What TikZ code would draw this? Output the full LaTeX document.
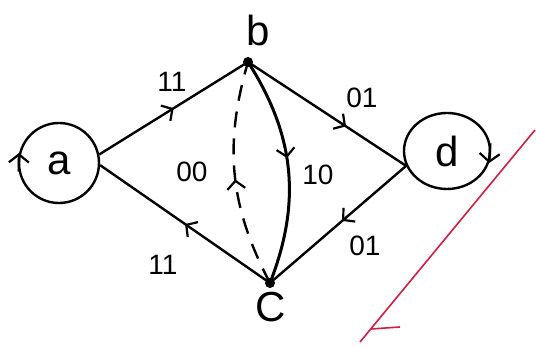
\documentclass[tikz,border=0pt]{standalone}
\usepackage{fontspec}
\setmainfont{Liberation Sans}
\usetikzlibrary{arrows.meta,decorations.markings,shapes.geometric}
\definecolor{pen}{RGB}{205,30,70}
\begin{document}
\begin{tikzpicture}[x=1pt,y=1pt,
  edge/.style={line width=2.4pt},
  tipbarb/.style={-{Straight Barb[length=8pt,width=20pt,line width=2.2pt]}},
  midarrow/.style={postaction={decorate},decoration={markings,mark=at position #1 with {\arrow{Straight Barb[length=8pt,width=18pt,line width=2.2pt]}}}},
  lab/.style={font=\fontsize{28}{28}\selectfont},
  letter/.style={font=\fontsize{42}{42}\selectfont},
  dot/.style={circle,fill,inner sep=0pt,minimum size=10pt},
  state/.style={draw,line width=2.4pt,inner sep=0pt},
  redline/.style={draw=pen,line width=1.6pt}
]
\useasboundingbox (0,0) rectangle (536,347);
\node[state,circle,minimum size=80pt,letter] (a) at (59,184) {a};
\node[state,ellipse,minimum width=86pt,minimum height=76pt,letter] (d) at (447,196) {d};
\node[dot] (b) at (248,285) {};
\node[dot] (c) at (270,64) {};
\node[letter] (bl) at (258,317) {b};
\node[letter] (cl) at (271,40) {C};

\draw[edge,midarrow=0.5] (a.12) -- (b.center);
\draw[edge,midarrow=0.62] (b.center) -- (d.200);
\draw[edge,midarrow=0.47] (d.200) -- (c.center);
\draw[edge,midarrow=0.5] (c.center) -- (a.-3);
\draw[line width=3pt,midarrow=0.45] (b.center) to[bend left=27] (c.center);
\draw[edge,dash pattern=on 16pt off 11pt,midarrow=0.48] (c.center) to[bend left=22] (b.center);

\draw[edge,tipbarb] (a.192) -- (a.166);
\draw[edge,tipbarb] (d.10) -- (d.-16);

\node[lab] (l1) at (172,265) {11};
\node[lab] (l2) at (362,249) {01};
\node[lab] (l3) at (318,172) {10};
\node[lab] (l4) at (192,175) {00};
\node[lab] (l5) at (163,82) {11};
\node[lab] (l6) at (365,101) {01};

\coordinate (r1) at (360,5);
\coordinate (r2) at (535,217);
\coordinate (r3) at (371,18);
\coordinate (r4) at (400,20);
\draw[redline] (r1) -- (r2);
\draw[redline] (r3) -- (r4);
\end{tikzpicture}
\end{document}
